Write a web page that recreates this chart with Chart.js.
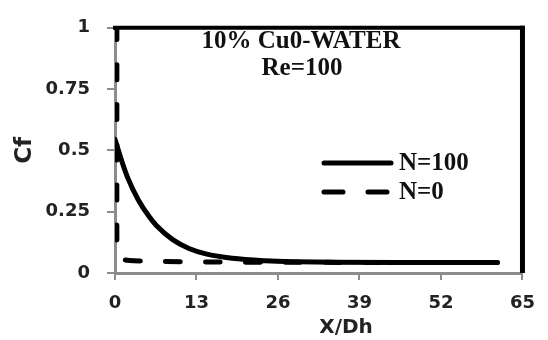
<!DOCTYPE html>
<html>
<head>
<meta charset="utf-8">
<script src="https://cdn.jsdelivr.net/npm/chart.js@4.4.1/dist/chart.umd.min.js"></script>
<style>
  html, body { margin: 0; padding: 0; background: #fff; }
  #wrap { width: 548px; height: 340px; position: relative; }
</style>
</head>
<body>
<div id="wrap"><canvas id="cfChart"></canvas></div>
<script>
// skin friction along the duct, 10% CuO-water, Re=100
const xTicks = [0, 13, 26, 39, 52, 65];
const yTicks = [0, 0.25, 0.5, 0.75, 1];
const yTickLabels = ['0', '0.25', '0.5', '0.75', '1'];

const n100X  = [0, 1.1, 2.1, 3.7, 5.5, 6.6, 9.2, 11.8, 14.5, 18.7, 24, 29, 35, 45, 61];
const n100Cf = [0.545, 0.455, 0.384, 0.299, 0.228, 0.194, 0.136, 0.100, 0.078, 0.060, 0.050, 0.046, 0.044, 0.043, 0.043];

const n0X  = [0.3, 0.3, 0.36, 0.5, 0.8, 1.5, 3, 8, 15, 25, 40, 61];
const n0Cf = [1, 0.12, 0.085, 0.068, 0.06, 0.054, 0.05, 0.047, 0.045, 0.044, 0.043, 0.043];

const titleLines = ['10% Cu0-WATER', 'Re=100'];
const seriesLabels = ['N=100', 'N=0'];

const toPoints = (xs, ys) => xs.map((x, i) => ({ x: x, y: ys[i] }));

const AXIS_GREY = '#8c8c8c';
const serif = 'bold 25px "Liberation Serif", "Times New Roman", serif';

// black frame on top/right, title block, legend and x title inside the canvas
const decorations = {
    id: 'decorations',
    afterDatasetsDraw(chart) {
        const { ctx, chartArea: a } = chart;
        ctx.save();
        ctx.strokeStyle = '#000';
        ctx.lineCap = 'butt';
        ctx.lineWidth = 4;
        ctx.beginPath();
        ctx.moveTo(a.left - 2, a.top);
        ctx.lineTo(a.right + 2, a.top);
        ctx.stroke();
        ctx.lineWidth = 5;
        ctx.beginPath();
        ctx.moveTo(a.right, a.top - 2);
        ctx.lineTo(a.right, a.bottom);
        ctx.stroke();

        ctx.fillStyle = '#111';
        ctx.font = serif;
        ctx.textAlign = 'center';
        ctx.textBaseline = 'middle';
        ctx.fillText(titleLines[0], 301, 42);
        ctx.fillText(titleLines[1], 302, 69);

        // legend
        chart.data.datasets.forEach((ds, i) => {
            const y = 163 + i * 29;
            ctx.strokeStyle = ds.borderColor;
            ctx.lineWidth = ds.borderWidth;
            ctx.lineCap = 'round';
            ctx.setLineDash(ds.borderDash ? [19, 25] : []);
            ctx.beginPath();
            ctx.moveTo(324, y);
            ctx.lineTo(391, y);
            ctx.stroke();
            ctx.setLineDash([]);
            ctx.textAlign = 'left';
            ctx.fillText(ds.label, 399, y + 1);
        });

        ctx.font = 'bold 20px "DejaVu Sans", sans-serif';
        ctx.textAlign = 'center';
        ctx.fillStyle = '#222';
        ctx.fillText('X/Dh', 346, 328);
        ctx.restore();
    }
};

const ctx = document.getElementById('cfChart').getContext('2d');

new Chart(ctx, {
    type: 'line',
    data: {
        datasets: [{
            label: seriesLabels[0],
            data: toPoints(n100X, n100Cf),
            borderColor: '#000',
            borderWidth: 5,
            borderCapStyle: 'round',
            cubicInterpolationMode: 'monotone',
            pointRadius: 0
        }, {
            label: seriesLabels[1],
            data: toPoints(n0X, n0Cf),
            borderColor: '#000',
            borderWidth: 5,
            borderDash: [15, 25],
            borderDashOffset: 3,
            borderCapStyle: 'round',
            tension: 0.3,
            pointRadius: 0
        }]
    },
    plugins: [decorations],
    options: {
        responsive: true,
        maintainAspectRatio: false,
        animation: false,
        layout: { padding: { left: 0, top: 17.5, right: 21, bottom: 0 } },
        plugins: {
            legend: { display: false },
            tooltip: { enabled: false }
        },
        scales: {
            x: {
                type: 'linear',
                min: 0,
                max: 65,
                afterBuildTicks: s => { s.ticks = xTicks.map(v => ({ value: v })); },
                afterFit: s => { s.height = 67; },
                ticks: {
                    color: '#222',
                    padding: 13,
                    maxRotation: 0,
                    font: { family: '"DejaVu Sans", sans-serif', weight: 'bold', size: 18 }
                },
                grid: { drawOnChartArea: false, tickLength: 7, color: AXIS_GREY, lineWidth: 2 },
                border: { color: AXIS_GREY, width: 3 }
            },
            y: {
                min: 0,
                max: 1,
                afterBuildTicks: s => { s.ticks = yTicks.map(v => ({ value: v })); },
                afterFit: s => { s.width = 115; },
                ticks: {
                    color: '#222',
                    padding: 17,
                    callback: v => yTickLabels[yTicks.indexOf(v)],
                    font: { family: '"DejaVu Sans", sans-serif', weight: 'bold', size: 18 }
                },
                title: {
                    display: true,
                    text: 'Cf',
                    color: '#222',
                    padding: { top: 11, bottom: 0 },
                    font: { family: '"DejaVu Sans", sans-serif', weight: 'bold', size: 23 }
                },
                grid: { drawOnChartArea: false, tickLength: 8, color: AXIS_GREY, lineWidth: 2 },
                border: { color: AXIS_GREY, width: 3 }
            }
        }
    }
});
</script>
</body>
</html>
